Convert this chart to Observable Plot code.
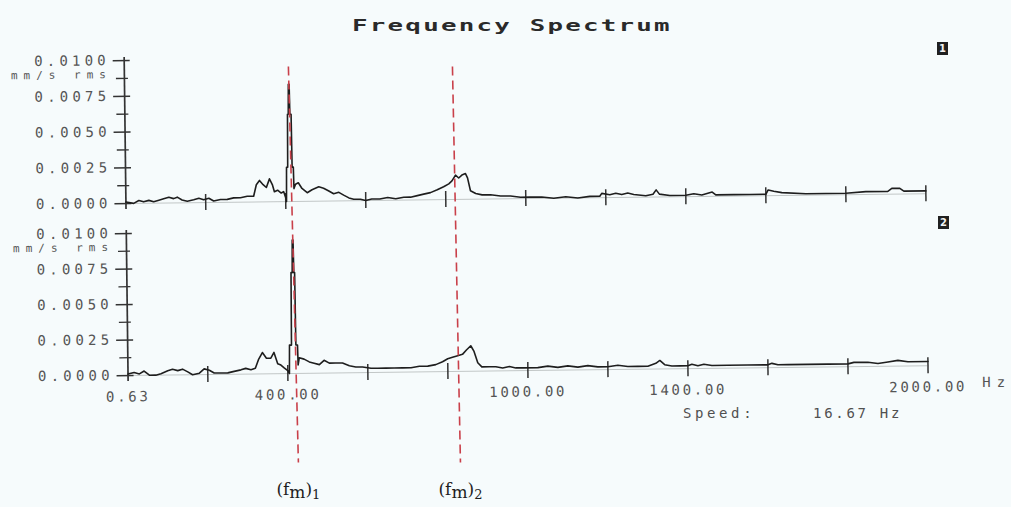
<!DOCTYPE html>
<html>
<head>
<meta charset="utf-8">
<script src="https://cdn.jsdelivr.net/npm/d3@7"></script>
<script src="https://cdn.jsdelivr.net/npm/@observablehq/plot@0.6"></script>
<style>
  html, body { margin: 0; padding: 0; background: #f6fbfc; }
  #wrap { position: relative; width: 1011px; height: 507px; overflow: hidden; background: #f6fbfc; }
  #panels { position: absolute; left: 0; top: 0; width: 1011px; height: 507px;
            transform: rotate(-0.7deg); transform-origin: 126.5px 290px; }
  .layer { position: absolute; left: 0; top: 0; }
  #title { position: absolute; left: 6px; top: 17px; width: 1011px; text-align: center; }
  #title span { display: inline-block; transform: scaleX(1.72); font: bold 15px "DejaVu Sans Mono", monospace;
                letter-spacing: 1.3px; color: #2a2a2a; line-height: 16px; }
  .box { position: absolute; width: 11px; height: 13px; background: #202020; color: #f2f2f2;
         font: bold 10px "DejaVu Sans", sans-serif; text-align: center; line-height: 13px; }
  .spd { position: absolute; top: 405px; font: 14px "DejaVu Sans Mono", monospace; color: #505050; line-height: 16px; }
  .pnl g[aria-label="y-axis tick label"] text { letter-spacing: 4.2px; }
  .pnl g[aria-label="x-axis tick label"] text { letter-spacing: 2.7px; }
  .pnl g[aria-label="text"] text { letter-spacing: 6px; }
</style>
</head>
<body>
<div id="wrap">
  <div id="panels"></div>
</div>
<script>
// ---------- data ----------
const chartTitle = "Frequency Spectrum";
const speedHz = 16.67;
const xDomain = [0.63, 2000];
const xTicks = [200, 400, 600, 800, 1000, 1200, 1400, 1600, 1800, 2000];
const xLabelTicks = [0.63, 400, 1000, 1400, 2000];
const yTicks = [0, 0.0025, 0.005, 0.0075, 0.01];
const yMinorTicks = [0.00125, 0.00375, 0.00625, 0.00875];
const unitTick = [0.00875];
const unitLabel = "mm/s rms";
const panelNames = ["1", "2"];

// panel 1 spectrum (Hz, mm/s rms)
const freq1 = [0.63, 20, 33, 45, 58, 70, 83, 95, 108, 120, 129, 141, 154, 170, 183, 195, 208, 220, 237, 254, 270, 287, 304, 320,
  327, 335, 344, 352, 360, 367, 372, 380, 389, 395, 401, 402, 403, 406, 407, 409, 410, 412, 413, 416, 417, 420, 421,
  425, 432, 441, 454, 466, 483, 495, 508, 520, 533, 545, 558, 570, 587, 600, 615, 635, 655, 675, 695, 712, 729, 745,
  762, 779, 795, 808, 816, 825, 833, 841, 850, 855, 862, 875, 891, 912, 937, 962, 987,
  1010, 1040, 1070, 1100, 1130, 1160, 1185, 1190, 1210, 1225, 1240, 1255, 1270, 1300, 1318, 1326, 1334, 1360, 1400,
  1420, 1440, 1466, 1475, 1520, 1560, 1600, 1606, 1620, 1640, 1700, 1750, 1800, 1850, 1905, 1915, 1935, 1945, 2000];
const amp1 = [0.0001, 0.0000, 0.0002, 0.0001, 0.0002, 0.0001, 0.0002, 0.0003, 0.0004, 0.0003, 0.0004, 0.0002, 0.0001, 0.0002, 0.0003, 0.0002, 0.0003, 0.0001, 0.0002, 0.0002, 0.0003, 0.0003, 0.0004, 0.0004,
  0.0012, 0.0015, 0.0012, 0.0010, 0.0016, 0.0012, 0.0007, 0.0008, 0.0006, 0.0007, 0.0002, 0.0000, 0.0024, 0.0024, 0.0061, 0.0061, 0.0082, 0.0082, 0.0061, 0.0061, 0.0024, 0.0024, 0.0009,
  0.0012, 0.0013, 0.0009, 0.0006, 0.0008, 0.0010, 0.0009, 0.0007, 0.0005, 0.0006, 0.0004, 0.0002, 0.0001, 0.0001, 0.0000, 0.0001, 0.0001, 0.0002, 0.0001, 0.0002, 0.0002, 0.0003, 0.0004,
  0.0005, 0.0007, 0.0009, 0.0011, 0.0013, 0.0017, 0.0015, 0.0017, 0.0018, 0.0015, 0.0006, 0.0004, 0.0003, 0.0003, 0.0002, 0.0002, 0.0001,
  0.0001, 0.0001, 0.0000, 0.0001, 0.0000, 0.0001, 0.0001, 0.0003, 0.0002, 0.0003, 0.0002, 0.0003, 0.0002, 0.0001, 0.0002, 0.0005, 0.0002, 0.0001, 0.0001,
  0.0002, 0.0001, 0.0003, 0.0001, 0.0001, 0.0001, 0.0001, 0.0004, 0.0003, 0.0002, 0.0001, 0.0001, 0.0001, 0.0002, 0.0002, 0.0004, 0.0004, 0.0002, 0.0002];

// panel 2 spectrum (Hz, mm/s rms)
const freq2 = [0.63, 16, 29, 41, 54, 70, 83, 100, 112, 125, 137, 150, 162, 179, 191, 204, 216, 233, 250, 266, 283, 295, 308, 319,
  327, 337, 347, 358, 366, 375, 383, 391, 400, 404, 405, 410, 411, 414, 415, 417, 418, 420, 421, 425, 426,
  429, 441, 454, 466, 479, 491, 504, 520, 537, 554, 570, 587, 608, 625, 645, 666, 687, 708, 729, 750, 770, 787,
  800, 812, 825, 837, 847, 858, 866, 875, 885, 904, 920, 937, 954, 970, 987,
  1025, 1050, 1075, 1100, 1125, 1150, 1175, 1200, 1225, 1250, 1275, 1300, 1320, 1330, 1342, 1360, 1380, 1400, 1410, 1425, 1440,
  1460, 1500, 1550, 1600, 1610, 1625, 1650, 1700, 1750, 1800, 1815, 1850, 1875, 1900, 1925, 1950, 2000];
const amp2 = [0.0001, 0.0002, 0.0001, 0.0003, 0.0000, 0.0000, 0.0001, 0.0003, 0.0004, 0.0003, 0.0004, 0.0002, 0.0000, 0.0001, 0.0004, 0.0003, 0.0001, 0.0001, 0.0001, 0.0002, 0.0003, 0.0004, 0.0003, 0.0004,
  0.0010, 0.0015, 0.0011, 0.0011, 0.0015, 0.0007, 0.0006, 0.0004, 0.0002, 0.0000, 0.0020, 0.0020, 0.0071, 0.0071, 0.0094, 0.0094, 0.0071, 0.0071, 0.0020, 0.0020, 0.0006,
  0.0011, 0.0010, 0.0008, 0.0007, 0.0006, 0.0009, 0.0007, 0.0007, 0.0007, 0.0005, 0.0004, 0.0004, 0.0003, 0.0003, 0.0003, 0.0003, 0.0003, 0.0003, 0.0004, 0.0004, 0.0005, 0.0007,
  0.0009, 0.0010, 0.0011, 0.0012, 0.0015, 0.0018, 0.0014, 0.0006, 0.0003, 0.0003, 0.0003, 0.0002, 0.0003, 0.0002, 0.0002,
  0.0002, 0.0003, 0.0002, 0.0003, 0.0002, 0.0003, 0.0002, 0.0002, 0.0003, 0.0002, 0.0002, 0.0002, 0.0004, 0.0006, 0.0003, 0.0002, 0.0002, 0.0002, 0.0003, 0.0002, 0.0003,
  0.0002, 0.0002, 0.0002, 0.0002, 0.0003, 0.0002, 0.0002, 0.0002, 0.0002, 0.0002, 0.0003, 0.0003, 0.0002, 0.0003, 0.0004, 0.0003, 0.0003];

// marked mesh-frequency lines (Hz at the top and bottom of the hand-drawn dashed line)
const fmIndex = ["1", "2"];
const fmTop = [404, 814];
const fmBottom = [429, 834];

// ---------- layout ----------
const W = 1011, H = 507;
const ML = 126.5, MR = 84.5;
const ink = "#333333";

function panel(freq, amp, top, bottom, withLabels) {
  const data = freq.map((f, i) => ({f, v: amp[i]}));
  const marks = [
    Plot.ruleY([0], {stroke: "#c2c7c7", strokeWidth: 1}),
    Plot.ruleX([xDomain[0]], {stroke: ink, strokeWidth: 1.7, insetTop: -3, insetBottom: -6}),
    Plot.axisY({ticks: yTicks, tickSize: 17, dx: 6, tickPadding: 3.3, tickFormat: d3.format(".4f"), label: null,
                stroke: ink, strokeWidth: 1.5, fill: "#555", fontSize: 14}),
    Plot.axisY({ticks: yMinorTicks, tickSize: 12, dx: 4, tickFormat: () => "", label: null, stroke: ink, strokeWidth: 1.3}),
    Plot.text(unitTick, {y: d => d, frameAnchor: "left", dx: -12.5, dy: -4, text: () => unitLabel,
                         textAnchor: "end", fontSize: 11, fill: "#555"}),
    Plot.axisX({ticks: xTicks, tickSize: 16, dy: -8, tickFormat: () => "", label: null, stroke: ink, strokeWidth: 1.5}),
    Plot.line(data, {x: "f", y: "v", stroke: "#1e1e1e", strokeWidth: 1.6})
  ];
  if (withLabels) {
    marks.push(
      Plot.axisX({ticks: xLabelTicks, tickSize: 0, tickPadding: 16, tickFormat: d => d.toFixed(2), label: null,
                  fill: "#555", fontSize: 14}),
      Plot.text([xDomain[1]], {x: d => d, frameAnchor: "bottom", dx: 68.5, dy: 22, text: () => "Hz",
                               fontSize: 14, fill: "#555"})
    );
  }
  return Plot.plot({
    width: W, height: H,
    marginTop: top, marginBottom: H - bottom, marginLeft: ML, marginRight: MR,
    x: {domain: xDomain, label: null},
    y: {domain: [0, 0.01], label: null},
    style: {background: "transparent", fontFamily: "'DejaVu Sans Mono', monospace", color: "#505050", overflow: "visible"},
    marks
  });
}

const panels = document.getElementById("panels");
[[freq1, amp1, 60, 203, false], [freq2, amp2, 233, 375, true]].forEach(([f, a, t, b, l]) => {
  const div = document.createElement("div");
  div.className = "layer pnl";
  div.appendChild(panel(f, a, t, b, l));
  panels.appendChild(div);
});

const wrap = document.getElementById("wrap");

// title
const tdiv = document.createElement("div");
tdiv.id = "title";
tdiv.innerHTML = "<span></span>";
tdiv.firstChild.textContent = chartTitle;
wrap.appendChild(tdiv);

// panel number boxes
[[937, 42], [938, 216]].forEach(([x, y], i) => {
  const b = document.createElement("div");
  b.className = "box";
  b.style.left = x + "px"; b.style.top = y + "px";
  b.textContent = panelNames[i];
  wrap.appendChild(b);
});

// speed
const s1 = document.createElement("div");
s1.className = "spd"; s1.style.left = "683px"; s1.style.letterSpacing = "3.6px";
s1.textContent = "Speed:";
wrap.appendChild(s1);
const s2 = document.createElement("div");
s2.className = "spd"; s2.style.left = "813px"; s2.style.letterSpacing = "2.7px";
s2.textContent = speedHz.toFixed(2) + " Hz";
wrap.appendChild(s2);

// red dashed fm lines + labels
const fmData = fmIndex.map((n, i) => ({n, top: fmTop[i], bottom: fmBottom[i]}));
const overlay = Plot.plot({
  width: W, height: H,
  marginTop: 66, marginBottom: 45, marginLeft: ML, marginRight: MR,
  x: {domain: xDomain, axis: null},
  y: {domain: [0, 1], axis: null},
  style: {background: "transparent", overflow: "visible"},
  marks: [
    Plot.link(fmData, {x1: "top", x2: "bottom", y1: () => 1, y2: () => 0,
                       stroke: "#c9404a", strokeWidth: 1.6, strokeDasharray: "9,5"}),
    Plot.text(fmData, {x: "bottom", frameAnchor: "bottom", dy: 32, text: d => "(fm)" + d.n,
                       fontFamily: "'DejaVu Serif', 'Liberation Serif', serif", fontSize: 17, fill: "#1e1e1e"})
  ]
});
d3.select(overlay).selectAll('g[aria-label="text"] text').each(function(_, i) {
  const t = d3.select(this);
  t.text(null);
  t.append("tspan").text("(f");
  t.append("tspan").attr("dy", 3).text("m");
  t.append("tspan").attr("dy", -3).text(")");
  t.append("tspan").attr("dy", 4).attr("font-size", 13).text(fmData[i].n);
});
const odiv = document.createElement("div");
odiv.className = "layer";
odiv.appendChild(overlay);
wrap.appendChild(odiv);
</script>
</body>
</html>
